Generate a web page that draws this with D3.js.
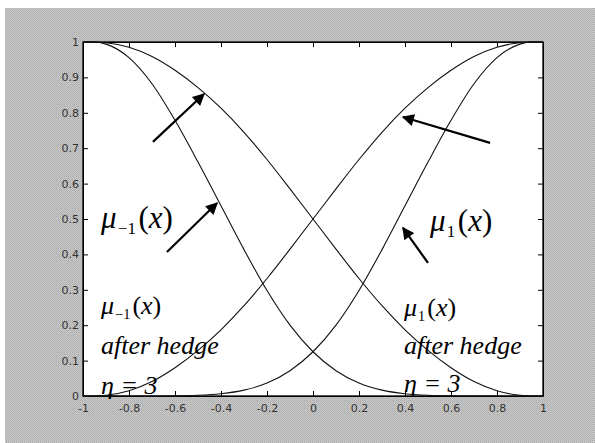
<!DOCTYPE html>
<head>
  <meta charset="utf-8">
  <title>Membership functions after hedge</title>
  <style>
  body { margin: 0; background: #fff; }
  .axis text { font: 11px "DejaVu Sans", sans-serif; fill: #333; }
  .axis path, .axis line { stroke: #000; }
  .curve { fill: none; stroke: #111; stroke-width: 1.1; }
  .lbl { fill: #000; font-family: "Liberation Serif", "Times New Roman", serif; }
  .arrow { stroke: #000; stroke-width: 2.2; }
  </style>
</head>

<svg id="vis1"></svg>

<script src="https://d3js.org/d3.v7.min.js"></script>

<script>
"use strict";

// values
var xs      = [-1, -0.95, -0.9, -0.8, -0.7, -0.6, -0.5, -0.4, -0.3, -0.2, -0.1, 0,
               0.1, 0.2, 0.3, 0.4, 0.5, 0.6, 0.7, 0.8, 0.9, 0.95, 1];
var muPos   = [0, 0, 0.002, 0.015, 0.041, 0.08, 0.129, 0.187, 0.255, 0.332, 0.415, 0.5,
               0.585, 0.668, 0.745, 0.813, 0.871, 0.92, 0.959, 0.985, 0.998, 1, 1];
var muNeg   = [1, 1, 0.998, 0.985, 0.959, 0.92, 0.871, 0.813, 0.745, 0.668, 0.585, 0.5,
               0.415, 0.332, 0.255, 0.187, 0.129, 0.08, 0.041, 0.015, 0.002, 0, 0];
var muPos3  = [0, 0, 0, 0, 0.0001, 0.0005, 0.0021, 0.0065, 0.0166, 0.0366, 0.0715, 0.125,
               0.2002, 0.2981, 0.4135, 0.5374, 0.6608, 0.7787, 0.882, 0.9557, 0.994, 1, 1];
var muNeg3  = [1, 1, 0.994, 0.9557, 0.882, 0.7787, 0.6608, 0.5374, 0.4135, 0.2981, 0.2002, 0.125,
               0.0715, 0.0366, 0.0166, 0.0065, 0.0021, 0.0005, 0.0001, 0, 0, 0, 0];
var xTicks  = [-1, -0.8, -0.6, -0.4, -0.2, 0, 0.2, 0.4, 0.6, 0.8, 1];
var yTicks  = [0, 0.1, 0.2, 0.3, 0.4, 0.5, 0.6, 0.7, 0.8, 0.9, 1];

// arrows, in data units: [x tail, y tail, x head, y head]
var arrows = [
  [-0.696, 0.718, -0.474, 0.853],
  [-0.635, 0.407, -0.417, 0.545],
  [ 0.770, 0.715,  0.391, 0.788],
  [ 0.500, 0.376,  0.391, 0.475]
];

var totalWidth = 595,
    totalHeight = 443;

var svg = d3.select("#vis1")
    .attr("width", totalWidth)
    .attr("height", totalHeight);

// fundo cinza "pontilhado" como no scan
var defs = svg.append("defs");
var pat = defs.append("pattern")
    .attr("id", "dither")
    .attr("width", 2).attr("height", 2)
    .attr("patternUnits", "userSpaceOnUse");
pat.append("rect").attr("width", 2).attr("height", 2).attr("fill", "#cbcbcb");
pat.append("rect").attr("width", 1).attr("height", 1).attr("fill", "#a9a9a9");
pat.append("rect").attr("x", 1).attr("y", 1).attr("width", 1).attr("height", 1).attr("fill", "#b3b3b3");

defs.append("marker")
    .attr("id", "head")
    .attr("viewBox", "0 0 10 10")
    .attr("refX", 9).attr("refY", 5)
    .attr("markerWidth", 6.5).attr("markerHeight", 5.5)
    .attr("markerUnits", "strokeWidth")
    .attr("orient", "auto")
  .append("path")
    .attr("d", "M0,0L10,5L0,10Z")
    .attr("fill", "#000");

svg.append("rect")
    .attr("x", 5).attr("y", 8)
    .attr("width", totalWidth - 5).attr("height", totalHeight - 8)
    .attr("fill", "url(#dither)");

var margin = {top: 42, right: 52, bottom: 47, left: 83},
    width = totalWidth - margin.left - margin.right,
    height = totalHeight - margin.top - margin.bottom;

var g = svg.append("g")
    .attr("transform", "translate(" + margin.left + "," + margin.top + ")");

g.append("rect")
    .attr("width", width).attr("height", height)
    .attr("fill", "#fff");

var x = d3.scaleLinear().domain([-1, 1]).range([0, width]);
var y = d3.scaleLinear().domain([0, 1]).range([height, 0]);

// hífen simples, como no original
var fmt = function(d) { return String(d); };

// eixos com ticks para dentro, nos quatro lados
g.append("g")
    .attr("class", "axis")
    .attr("transform", "translate(0," + height + ")")
    .call(d3.axisBottom(x).tickValues(xTicks).tickFormat(fmt).tickSizeInner(-5).tickSizeOuter(0).tickPadding(8));
g.append("g")
    .attr("class", "axis")
    .call(d3.axisTop(x).tickValues(xTicks).tickFormat("").tickSizeInner(-5).tickSizeOuter(0));
g.append("g")
    .attr("class", "axis")
    .call(d3.axisLeft(y).tickValues(yTicks).tickFormat(fmt).tickSizeInner(-5).tickSizeOuter(0).tickPadding(4));
g.append("g")
    .attr("class", "axis")
    .attr("transform", "translate(" + width + ",0)")
    .call(d3.axisRight(y).tickValues(yTicks).tickFormat("").tickSizeInner(-5).tickSizeOuter(0));

g.append("rect")
    .attr("width", width).attr("height", height)
    .attr("fill", "none").attr("stroke", "#000").attr("stroke-width", 1.3);

var line = d3.line()
    .x(function(d) { return x(d[0]); })
    .y(function(d) { return y(d[1]); })
    .curve(d3.curveMonotoneX);

[muNeg, muPos, muNeg3, muPos3].forEach(function(series) {
  g.append("path")
      .attr("class", "curve")
      .attr("d", line(d3.zip(xs, series)));
});

g.selectAll(".arrow")
    .data(arrows)
  .enter().append("line")
    .attr("class", "arrow")
    .attr("x1", function(d) { return x(d[0]); })
    .attr("y1", function(d) { return y(d[1]); })
    .attr("x2", function(d) { return x(d[2]); })
    .attr("y2", function(d) { return y(d[3]); })
    .attr("marker-end", "url(#head)");

// rótulos  mu_{-1}(x), mu_1(x)
function mu(px, py, size, sub) {
  var t = svg.append("text")
      .attr("class", "lbl")
      .attr("x", px).attr("y", py)
      .attr("font-size", size);
  t.append("tspan").attr("font-style", "italic").text("\u03bc");
  t.append("tspan").attr("dy", size * 0.2).attr("dx", size * 0.04).attr("font-size", size * 0.55).text(sub);
  t.append("tspan").attr("dy", -size * 0.2).attr("dx", size * 0.08).text("(");
  t.append("tspan").attr("font-style", "italic").text("x");
  t.append("tspan").text(")");
  return t;
}

function note(px, py, size, txt) {
  return svg.append("text")
      .attr("class", "lbl")
      .attr("x", px).attr("y", py)
      .attr("font-size", size)
      .attr("font-style", "italic")
      .text(txt);
}

mu(101, 228, 31, "\u22121");
mu(430, 231, 31, "1");

mu(101, 314, 26, "\u22121");
note(101, 354, 26, "after hedge");
note(101, 394, 26, "\u03b7 = 3");

mu(404, 316, 26, "1");
note(404, 354, 26, "after hedge");
note(404, 392, 26, "\u03b7 = 3");

</script>
